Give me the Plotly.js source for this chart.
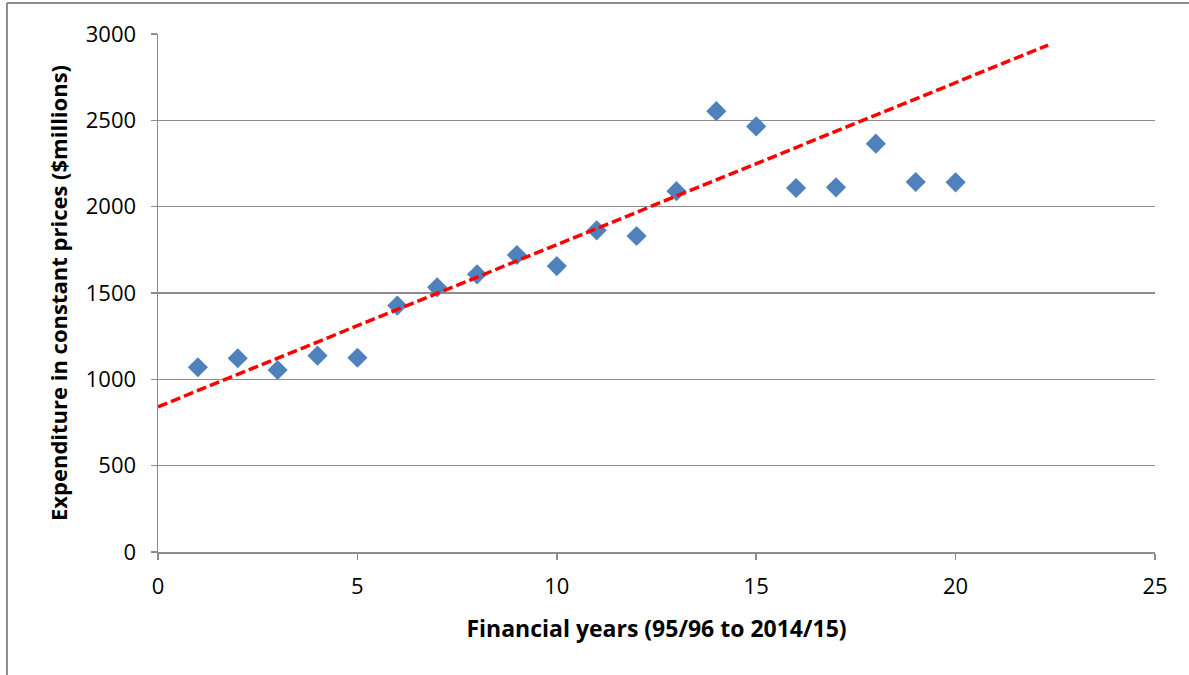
<!DOCTYPE html>
<html>
<head>
<meta charset="utf-8">
<script src="https://cdn.plot.ly/plotly-3.0.1.min.js"></script>
<style>html,body{margin:0;padding:0;background:#fff;}#chart{width:1189px;height:675px;}</style>
</head>
<body>
<div id="chart"></div>
<script>
// Data
const years = [1, 2, 3, 4, 5, 6, 7, 8, 9, 10, 11, 12, 13, 14, 15, 16, 17, 18, 19, 20];
const expenditure = [1070, 1122, 1054, 1137, 1125, 1427, 1533, 1608, 1720, 1656, 1863, 1830, 2090, 2553, 2465, 2108, 2112, 2365, 2143, 2141];
const trendX = [0, 22.32];
const trendY = [841, 2936];
const xTitle = 'Financial years (95/96 to 2014/15)';
const yTitle = 'Expenditure in constant prices ($millions)';

const FONT = 'Open Sans, Lato, sans-serif';
const GRID = '#8c8c8c';

const traces = [
  {
    x: years, y: expenditure, type: 'scatter', mode: 'markers',
    marker: {symbol: 'diamond', size: 15.5, color: '#4F81BD', line: {width: 0}},
    hoverinfo: 'x+y', showlegend: false
  },
  {
    x: trendX, y: trendY, type: 'scatter', mode: 'lines',
    line: {color: '#FF0000', width: 3.5, dash: '10px,4px'},
    hoverinfo: 'skip', showlegend: false
  }
];

const layout = {
  width: 1189, height: 675,
  margin: {l: 158, r: 34, t: 34, b: 123, pad: 0},
  paper_bgcolor: '#ffffff', plot_bgcolor: '#ffffff',
  font: {family: FONT, size: 22, color: '#000000'},
  showlegend: false,
  xaxis: {
    range: [0, 25], dtick: 5, tick0: 0,
    showgrid: false, zeroline: false,
    showline: true, linecolor: GRID, linewidth: 1.5,
    ticks: 'outside', ticklen: 6, tickcolor: GRID, tickwidth: 1.5,
    ticklabelstandoff: 8,
    tickfont: {family: FONT, size: 22, color: '#000'},
    title: {text: xTitle, font: {family: FONT, size: 23, color: '#000', weight: 'bold'}, standoff: 22}
  },
  yaxis: {
    range: [0, 3000], dtick: 500, tick0: 0,
    showgrid: true, gridcolor: GRID, gridwidth: 1.5, zeroline: false,
    showline: true, linecolor: GRID, linewidth: 1.5,
    ticks: 'outside', ticklen: 6, tickcolor: GRID, tickwidth: 1.5,
    ticklabelstandoff: 10,
    tickfont: {family: FONT, size: 22, color: '#000'},
    title: {text: yTitle, font: {family: FONT, size: 22, color: '#000', weight: 'bold'}, standoff: 12}
  },
  shapes: [
    {type: 'line', xref: 'paper', yref: 'paper', x0: -0.1515, x1: 1.04, y0: 1.0598, y1: 1.0598, line: {color: '#8c8c8c', width: 2}},
    {type: 'line', xref: 'paper', yref: 'paper', x0: -0.1515, x1: -0.1515, y0: -0.3, y1: 1.0598, line: {color: '#8c8c8c', width: 2}}
  ]
};

Plotly.newPlot('chart', traces, layout, {displayModeBar: false, staticPlot: true});
</script>
</body>
</html>
